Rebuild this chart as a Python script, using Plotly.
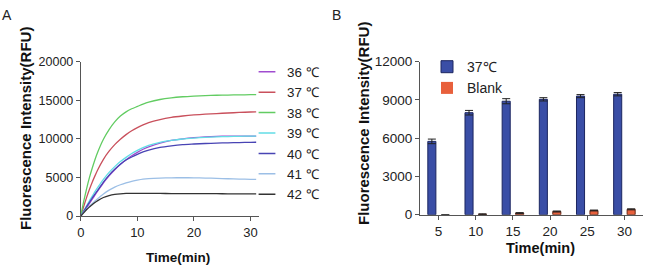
import plotly.graph_objects as go

# ---------------- Panel A data ----------------
time_min = [0, 0.5, 1, 1.5, 2, 2.5, 3, 4, 5, 6, 7, 8, 9, 10, 11, 12, 14, 16, 18, 20, 22, 24, 26, 28, 30, 31]
temp_labels = ["36 ℃", "37 ℃", "38 ℃", "39 ℃", "40 ℃", "41 ℃", "42 ℃"]
rfu_36 = [0, 500, 1050, 1600, 2150, 2700, 3250, 4300, 5200, 6000, 6700, 7300, 7800, 8250, 8650, 8950, 9450, 9800, 10000, 10150, 10250, 10320, 10350, 10360, 10360, 10360]
rfu_37 = [0, 1200, 2350, 3400, 4350, 5200, 6000, 7350, 8400, 9250, 9950, 10550, 11050, 11450, 11800, 12100, 12500, 12780, 12960, 13100, 13200, 13280, 13350, 13420, 13480, 13500]
rfu_38 = [0, 1850, 3450, 4900, 6150, 7300, 8300, 9950, 11200, 12200, 12950, 13500, 13900, 14200, 14500, 14750, 15100, 15320, 15460, 15550, 15610, 15650, 15680, 15700, 15720, 15730]
rfu_39 = [0, 650, 1300, 1950, 2550, 3150, 3700, 4750, 5650, 6400, 7050, 7600, 8100, 8500, 8850, 9150, 9550, 9800, 9980, 10100, 10200, 10260, 10300, 10330, 10350, 10350]
rfu_40 = [0, 600, 1200, 1750, 2300, 2850, 3350, 4400, 5300, 6050, 6700, 7250, 7650, 8000, 8300, 8550, 8900, 9100, 9250, 9330, 9400, 9450, 9490, 9520, 9550, 9560]
rfu_41 = [0, 450, 850, 1250, 1600, 1950, 2250, 2850, 3350, 3750, 4050, 4300, 4500, 4650, 4780, 4850, 4920, 4950, 4960, 4950, 4920, 4880, 4830, 4790, 4760, 4750]
rfu_42 = [0, 400, 800, 1150, 1450, 1750, 2000, 2400, 2650, 2800, 2880, 2920, 2930, 2930, 2930, 2930, 2920, 2910, 2900, 2900, 2890, 2890, 2880, 2880, 2880, 2880]
series_a = [rfu_36, rfu_37, rfu_38, rfu_39, rfu_40, rfu_41, rfu_42]
colors_a = ["#a04ccf", "#c9505c", "#62cc62", "#62dde6", "#4844b4", "#9cbfe6", "#333333"]

# ---------------- Panel B data ----------------
time_cats = ["5", "10", "15", "20", "25", "30"]
rfu_37c = [5750, 8000, 8900, 9050, 9300, 9450]
err_37c = [180, 180, 200, 130, 120, 130]
rfu_blank = [0, 40, 130, 250, 330, 420]
err_blank = [None, 25, 30, 40, 35, 40]

W, H = 649, 269
fig = go.Figure()

for name, ys, col in zip(temp_labels, series_a, colors_a):
    fig.add_trace(go.Scatter(x=time_min, y=ys, mode="lines", name=name,
                             line=dict(color=col, width=1.3, shape="spline", smoothing=0.6),
                             showlegend=False, xaxis="x", yaxis="y"))
    # legend entry with short line swatch
    fig.add_trace(go.Scatter(x=[None], y=[None], mode="markers", name=name,
                             marker=dict(symbol="line-ew", size=12,
                                         line=dict(color=col, width=1.5)),
                             legend="legend", xaxis="x", yaxis="y"))

fig.add_trace(go.Bar(x=time_cats, y=rfu_37c, name="37℃",
                     marker=dict(color="#3a4ea6", line=dict(color="#1c2660", width=1)),
                     error_y=dict(type="data", array=err_37c, color="#222222", thickness=1, width=4),
                     xaxis="x2", yaxis="y2", legend="legend2"))
fig.add_trace(go.Bar(x=time_cats, y=rfu_blank, name="Blank",
                     marker=dict(color="#e8603c",
                                 line=dict(color="#6a2a18", width=[0 if v == 0 else 1 for v in rfu_blank])),
                     error_y=dict(type="data", array=err_blank, color="#222222", thickness=1, width=4),
                     xaxis="x2", yaxis="y2", legend="legend2"))

axis_common = dict(showline=True, linecolor="#555555", linewidth=1, ticks="outside",
                   ticklen=4, tickcolor="#555555", showgrid=False, zeroline=False,
                   automargin=False)
font_fam = "Liberation Sans, Arial, sans-serif"

fig.update_layout(
    width=W, height=H,
    margin=dict(l=0, r=0, t=0, b=0, pad=0, autoexpand=False),
    paper_bgcolor="white", plot_bgcolor="white",
    font=dict(family=font_fam, color="#222222"),
    barmode="group", bargap=0.276, bargroupgap=0.4,
    xaxis=dict(domain=[80.8 / W, 259 / W], range=[0, 31.5], tickvals=[0, 10, 20, 30],
               tickformat="d", tickfont=dict(size=13), anchor="y", **axis_common),
    yaxis=dict(domain=[1 - 216 / H, 1 - 61.7 / H], range=[0, 20000], tickvals=[0, 5000, 10000, 15000, 20000],
               tickformat="d", tickfont=dict(size=12.5), anchor="x", **axis_common),
    xaxis2=dict(domain=[420 / W, 643 / W], type="category", range=[-0.5, 5.5],
                tickfont=dict(size=13.5), anchor="y2", **axis_common),
    yaxis2=dict(domain=[1 - 214.7 / H, 1 - 61.7 / H], range=[0, 12000], tickvals=[0, 3000, 6000, 9000, 12000],
                tickformat="d", tickfont=dict(size=13.5), anchor="x2", **axis_common),
    legend=dict(x=247 / W, y=1 - 56.5 / H, xanchor="left", yanchor="top",
                font=dict(size=13.4, color="#222222"), bgcolor="rgba(0,0,0,0)", borderwidth=0),
    legend2=dict(x=427 / W, y=1 - 51.1 / H, xanchor="left", yanchor="top",
                 font=dict(size=14, color="#222222"), bgcolor="rgba(0,0,0,0)", borderwidth=0),
    annotations=[
        dict(text="A", x=7 / W, y=1 - 15 / H, xref="paper", yref="paper", showarrow=False,
             xanchor="center", yanchor="middle", font=dict(size=14, color="#222222")),
        dict(text="B", x=336 / W, y=1 - 15 / H, xref="paper", yref="paper", showarrow=False,
             xanchor="center", yanchor="middle", font=dict(size=14, color="#222222")),
        dict(text="<b>Fluorescence Intensity(RFU)</b>", x=25 / W, y=1 - 129 / H, xref="paper", yref="paper",
             showarrow=False, textangle=-90, xanchor="center", yanchor="middle",
             font=dict(size=15, color="#111111")),
        dict(text="<b>Time(min)</b>", x=178 / W, y=1 - 257 / H, xref="paper", yref="paper",
             showarrow=False, xanchor="center", yanchor="middle", font=dict(size=13.5, color="#111111")),
        dict(text="<b>Fluorescence Intensity(RFU)</b>", x=363 / W, y=1 - 123 / H, xref="paper", yref="paper",
             showarrow=False, textangle=-90, xanchor="center", yanchor="middle",
             font=dict(size=15, color="#111111")),
        dict(text="<b>Time(min)</b>", x=540 / W, y=1 - 248 / H, xref="paper", yref="paper",
             showarrow=False, xanchor="center", yanchor="middle", font=dict(size=14.5, color="#111111")),
    ],
)

fig.write_html("out.html", config={"displayModeBar": False},
               post_script="document.body.style.margin='0';")
